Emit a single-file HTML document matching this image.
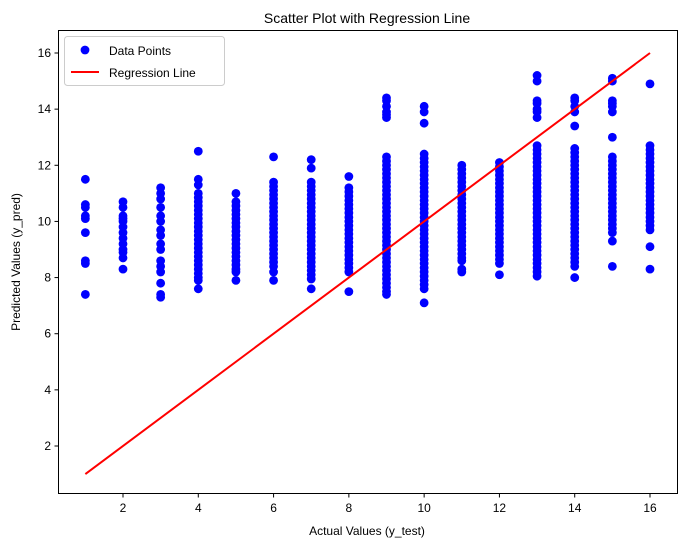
<!DOCTYPE html>
<html><head><meta charset="utf-8"><style>
html,body{margin:0;padding:0;background:#fff;}
svg{display:block;font-family:"Liberation Sans","DejaVu Sans",sans-serif;}
</style></head><body>
<svg id="chart" width="687" height="547" viewBox="0 0 687 547" xmlns="http://www.w3.org/2000/svg">
<rect width="687" height="547" fill="#fff"/>
<text x="367" y="23" text-anchor="middle" font-size="14">Scatter Plot with Regression Line</text>
<g id="points"></g>
<g id="line"></g>
<rect x="58.5" y="30.5" width="619" height="463" fill="none" stroke="#000" stroke-width="1"/>
<g id="xticks"></g>
<g id="yticks"></g>
<text x="367" y="535" text-anchor="middle" font-size="12">Actual Values (y_test)</text>
<text transform="translate(20,262) rotate(-90)" text-anchor="middle" font-size="12">Predicted Values (y_pred)</text>
<g>
<rect x="64.5" y="36.5" width="160" height="49" rx="3" fill="#fff" fill-opacity="0.8" stroke="#ccc"/>
<circle cx="85" cy="50" r="4.4" fill="#0000ff"/>
<text x="109" y="55" font-size="12">Data Points</text>
<line x1="71" y1="72" x2="99" y2="72" stroke="#ff0000" stroke-width="2"/>
<text x="109" y="77" font-size="12">Regression Line</text>
</g>
</svg>
<script>
const categories = [1,2,3,4,5,6,7,8,9,10,11,12,13,14,15,16];
const col1 = [11.5,10.6,10.5,10.2,10.1,9.6,8.6,8.5,7.4];
const col2 = [10.7,10.5,10.2,10.1,10.0,9.8,9.6,9.4,9.2,9.0,8.9,8.7,8.3];
const col3 = [11.2,11.0,10.8,10.5,10.2,10.0,9.7,9.5,9.2,9.0,8.6,8.4,8.2,7.8,7.4,7.3];
const col4 = [12.5,11.5,11.3,11.0,10.85,10.7,10.55,10.4,10.25,10.1,9.95,9.8,9.65,9.5,9.35,9.2,9.05,8.9,8.75,8.6,8.45,8.3,8.15,8.0,7.9,7.6];
const col5 = [11.0,10.7,10.55,10.4,10.25,10.1,9.95,9.8,9.65,9.5,9.35,9.2,9.05,8.9,8.75,8.6,8.45,8.3,8.2,7.9];
const col6 = [12.3,11.4,11.25,11.1,10.95,10.8,10.65,10.5,10.35,10.2,10.05,9.9,9.75,9.6,9.45,9.3,9.15,9.0,8.85,8.7,8.55,8.4,8.2,7.9];
const col7 = [12.2,11.9,11.4,11.25,11.1,10.95,10.8,10.65,10.5,10.35,10.2,10.05,9.9,9.75,9.6,9.45,9.3,9.15,9.0,8.85,8.7,8.55,8.4,8.25,8.1,7.95,7.6];
const col8 = [11.6,11.2,11.05,10.9,10.75,10.6,10.45,10.3,10.15,10.0,9.85,9.7,9.55,9.4,9.25,9.1,8.95,8.8,8.65,8.5,8.35,8.2,7.5];
const col9 = [14.4,14.3,14.1,13.9,13.8,13.7,12.3,12.15,12.0,11.85,11.7,11.55,11.4,11.25,11.1,10.95,10.8,10.65,10.5,10.35,10.2,10.05,9.9,9.75,9.6,9.45,9.3,9.15,9.0,8.85,8.7,8.55,8.4,8.25,8.1,7.95,7.8,7.65,7.5,7.4];
const col10 = [14.1,13.9,13.5,12.4,12.25,12.1,11.95,11.8,11.65,11.5,11.35,11.2,11.05,10.9,10.75,10.6,10.45,10.3,10.15,10.0,9.85,9.7,9.55,9.4,9.25,9.1,8.95,8.8,8.65,8.5,8.35,8.2,8.05,7.9,7.75,7.6,7.1];
const col11 = [12.0,11.85,11.7,11.55,11.4,11.25,11.1,10.95,10.8,10.65,10.5,10.35,10.2,10.05,9.9,9.75,9.6,9.45,9.3,9.15,9.0,8.85,8.7,8.6,8.3,8.2];
const col12 = [12.1,11.95,11.8,11.65,11.5,11.35,11.2,11.05,10.9,10.75,10.6,10.45,10.3,10.15,10.0,9.85,9.7,9.55,9.4,9.25,9.1,8.95,8.8,8.65,8.5,8.1];
const col13 = [15.2,15.0,14.3,14.2,14.0,13.9,13.7,12.7,12.55,12.4,12.25,12.1,11.95,11.8,11.65,11.5,11.35,11.2,11.05,10.9,10.75,10.6,10.45,10.3,10.15,10.0,9.85,9.7,9.55,9.4,9.25,9.1,8.95,8.8,8.65,8.5,8.35,8.2,8.05];
const col14 = [14.4,14.3,14.1,13.9,13.4,12.6,12.45,12.3,12.15,12.0,11.85,11.7,11.55,11.4,11.25,11.1,10.95,10.8,10.65,10.5,10.35,10.2,10.05,9.9,9.75,9.6,9.45,9.3,9.15,9.0,8.85,8.7,8.55,8.4,8.0];
const col15 = [15.1,15.0,14.3,14.2,14.1,13.9,13.0,12.3,12.15,12.0,11.85,11.7,11.55,11.4,11.25,11.1,10.95,10.8,10.65,10.5,10.35,10.2,10.05,9.9,9.75,9.6,9.3,8.4];
const col16 = [14.9,12.7,12.55,12.4,12.25,12.1,11.95,11.8,11.65,11.5,11.35,11.2,11.05,10.9,10.75,10.6,10.45,10.3,10.15,10.0,9.85,9.7,9.1,8.3];
const columns = [col1,col2,col3,col4,col5,col6,col7,col8,col9,col10,col11,col12,col13,col14,col15,col16];
const lineX = [1,16];
const lineY = [1,16];
const xTicks = [2,4,6,8,10,12,14,16];
const yTicks = [2,4,6,8,10,12,14,16];

const NS = "http://www.w3.org/2000/svg";
function xs(v){ return 123 + (v-2)*(527/14); }
function ys(v){ return 446 - (v-2)*(393/14); }
function mk(tag, attrs, parent){
  const e = document.createElementNS(NS, tag);
  for (const k in attrs) e.setAttribute(k, attrs[k]);
  parent.appendChild(e);
  return e;
}
const pg = document.getElementById('points');
columns.forEach((col, i) => {
  col.forEach(v => {
    const c = mk('circle', {cx: xs(categories[i]), cy: ys(v), r: 4.4, fill: '#0000ff'}, pg);
    
    
  });
});
const lg = document.getElementById('line');
const ln = mk('line', {x1: xs(lineX[0]), y1: ys(lineY[0]), x2: xs(lineX[1]), y2: ys(lineY[1]), stroke: '#ff0000', 'stroke-width': 2}, lg);


const xg = document.getElementById('xticks');
xTicks.forEach(t => {
  const x = xs(t);
  const tk = mk('line', {x1: x, y1: 493.5, x2: x, y2: 497.5, stroke: '#000'}, xg);
  
  
  const lb = mk('text', {x: x, y: 512, 'text-anchor': 'middle', 'font-size': 12}, xg);
  lb.textContent = t;
  
  
});
const yg = document.getElementById('yticks');
yTicks.forEach(t => {
  const y = ys(t);
  const tk = mk('line', {x1: 54.5, y1: y, x2: 58.5, y2: y, stroke: '#000'}, yg);
  
  
  const lb = mk('text', {x: 51, y: y + 4, 'text-anchor': 'end', 'font-size': 12}, yg);
  lb.textContent = t;
  
  
});
</script>
</body></html>
